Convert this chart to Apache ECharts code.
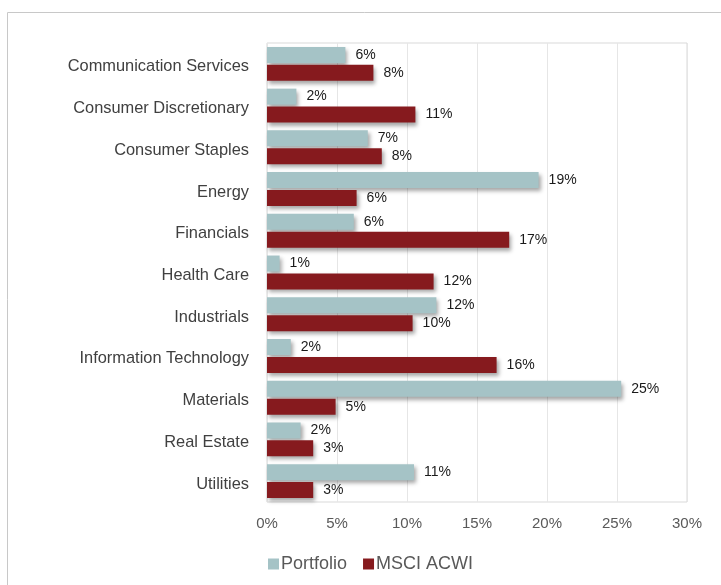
<!DOCTYPE html>
<html>
<head>
    <meta charset="utf-8">
    <title>Sector weights</title>
    <script src="https://cdn.jsdelivr.net/npm/echarts@6/dist/echarts.min.js"></script>
    <style>
        body { margin: 0; background: #fff; }
    </style>
</head>
<body>
    <div id="main" style="width: 721px;height:585px;"></div>
    <script type="text/javascript">
        var categories = ['Communication Services', 'Consumer Discretionary', 'Consumer Staples', 'Energy',
            'Financials', 'Health Care', 'Industrials', 'Information Technology', 'Materials',
            'Real Estate', 'Utilities'];
        // weights in %
        var portfolio = [5.6, 2.1, 7.2, 19.4, 6.2, 0.9, 12.1, 1.7, 25.3, 2.4, 10.5];
        var msciAcwi = [7.6, 10.6, 8.2, 6.4, 17.3, 11.9, 10.4, 16.4, 4.9, 3.3, 3.3];
        var xTicks = [0, 5, 10, 15, 20, 25, 30];

        var dom = document.getElementById("main");
        var myChart = echarts.init(dom);

        // bars with a soft drop shadow like the office chart
        function barStyle(color) {
            return {
                color: color,
                shadowColor: 'rgba(0,0,0,0.35)',
                shadowBlur: 4,
                shadowOffsetX: 2,
                shadowOffsetY: 3
            };
        }

        var labelStyle = {
            show: true,
            position: 'right',
            distance: 10,
            color: '#1a1a1a',
            fontFamily: 'Liberation Sans',
            fontSize: 14,
            formatter: function (p) {
                return Math.round(p.value) + '%';
            }
        };

        var option = {
            animation: false,
            textStyle: { fontFamily: 'Liberation Sans' },
            graphic: [{
                type: 'rect',
                shape: { x: 7.5, y: 12.5, width: 720, height: 580 },
                style: { fill: 'none', stroke: '#c8c8c8', lineWidth: 1 },
                silent: true
            }],
            legend: {
                left: 263,
                top: 550,
                itemWidth: 11,
                itemHeight: 11,
                itemGap: 16,
                icon: 'rect',
                textStyle: { color: '#595959', fontSize: 18, fontFamily: 'Liberation Sans', padding: [0, 0, 0, -3] },
                data: ['Portfolio', 'MSCI ACWI']
            },
            grid: {
                left: 267,
                right: 34,
                top: 43,
                bottom: 83,
                show: true,
                borderColor: '#d9d9d9',
                borderWidth: 1
            },
            xAxis: {
                type: 'value',
                min: xTicks[0],
                max: xTicks[xTicks.length - 1],
                interval: 5,
                axisLine: { show: false },
                axisTick: { show: false },
                splitLine: { lineStyle: { color: '#e6e6e6' } },
                axisLabel: {
                    color: '#595959',
                    fontSize: 15,
                    margin: 14,
                    formatter: function (v) { return v + '%'; }
                }
            },
            yAxis: {
                type: 'category',
                inverse: true,
                data: categories,
                axisLine: { show: false },
                axisTick: { show: false },
                axisLabel: {
                    margin: 18,
                    formatter: function (v) { return '{c|' + v + '}'; },
                    rich: {
                        c: {
                            color: '#404040',
                            fontSize: 16.4,
                            fontFamily: 'Liberation Sans',
                            padding: [6, 0, 0, 0]
                        }
                    }
                }
            },
            series: [{
                name: 'Portfolio',
                type: 'bar',
                data: portfolio,
                barWidth: 16,
                barGap: '12%',
                itemStyle: barStyle('#a5c3c6'),
                label: labelStyle
            }, {
                name: 'MSCI ACWI',
                type: 'bar',
                data: msciAcwi,
                barWidth: 16,
                itemStyle: barStyle('#861a1e'),
                label: labelStyle
            }]
        };

        myChart.setOption(option);
    </script>
</body>
</html>
